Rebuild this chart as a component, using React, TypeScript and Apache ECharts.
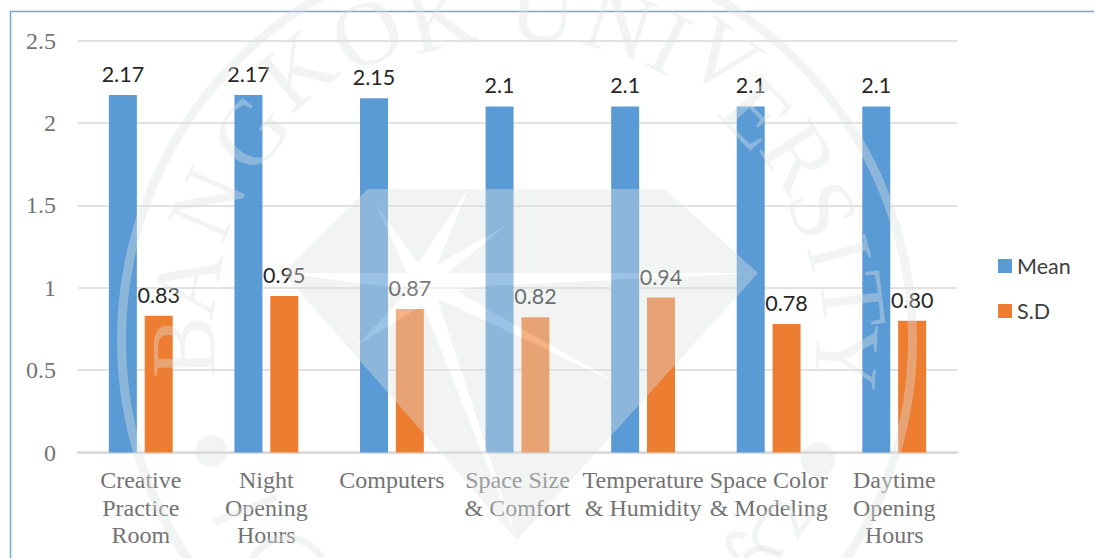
import React, { useEffect, useRef } from "react";
import * as echarts from "echarts";

const categories = [
  "Creative\nPractice\nRoom",
  "Night\nOpening\nHours",
  "Computers",
  "Space Size\n& Comfort",
  "Temperature\n& Humidity",
  "Space Color\n& Modeling",
  "Daytime\nOpening\nHours",
];
const meanValues = [2.17, 2.17, 2.15, 2.1, 2.1, 2.1, 2.1];
const sdValues = [0.83, 0.95, 0.87, 0.82, 0.94, 0.78, 0.8];

// University seal drawn over the plot
const SEAL_X = 517;
const SEAL_Y = 340;
const SEAL_FILL = "rgba(221,226,226,0.38)";
const sealLetters: [string, number, number][] = [
  ["B", 183, 347], ["A", 187, 283], ["N", 207, 203], ["G", 250, 133],
  ["K", 297, 70], ["O", 367, 33], ["K", 440, 17], ["U", 543, 10],
  ["N", 620, 23], ["I", 670, 43], ["V", 723, 57], ["E", 757, 113],
  ["R", 800, 157], ["S", 823, 210], ["I", 840, 253], ["T", 853, 300],
  ["Y", 847, 357],
];

const gemOutline = "M368 189L665 189L758 273L517 540L283 273Z";
const starPoints: [number, number][] = [
  [468, 190], [437, 265], [510, 223], [447, 273], [757, 273], [487, 286],
  [456, 291], [617, 383], [437, 298], [517, 540], [423, 305], [355, 347],
  [408, 292], [388, 287], [283, 273], [407, 273], [375, 203], [418, 263],
];
const starReversed = [...starPoints].reverse();
const gemPath =
  gemOutline +
  "M" + starReversed.map((p) => p.join(" ")).join("L") + "Z";
echarts.graphic.registerShape("sealGem", echarts.graphic.extendPath(gemPath, {}));

const sealElements: any[] = [
  {
    type: "ring",
    z: 100,
    silent: true,
    shape: { cx: SEAL_X, cy: SEAL_Y, r: 400, r0: 391 },
    style: { fill: SEAL_FILL },
  },
  { type: "sealGem", z: 100, silent: true, x: 0, y: 0, style: { fill: SEAL_FILL } },
  {
    type: "polygon",
    z: 100,
    silent: true,
    shape: { points: starPoints },
    style: { fill: "rgba(255,255,255,0.4)" },
  },
  { type: "circle", z: 100, silent: true, shape: { cx: 211, cy: 451, r: 16 }, style: { fill: SEAL_FILL } },
  { type: "circle", z: 100, silent: true, shape: { cx: 818, cy: 460, r: 17 }, style: { fill: SEAL_FILL } },
  {
    type: "line",
    z: 100,
    silent: true,
    shape: { x1: 215, y1: 522, x2: 277, y2: 497 },
    style: { stroke: SEAL_FILL, lineWidth: 7 },
  },
  {
    type: "arc",
    z: 100,
    silent: true,
    shape: { cx: 287, cy: 578, r: 40, startAngle: Math.PI, endAngle: Math.PI * 2 },
    style: { stroke: SEAL_FILL, lineWidth: 7, fill: "none" },
  },
  {
    type: "bezierCurve",
    z: 100,
    silent: true,
    shape: { x1: 738, y1: 558, x2: 745, y2: 537, cpx1: 722, cpy1: 540, cpx2: 728, cpy2: 530 },
    style: { stroke: SEAL_FILL, lineWidth: 6, fill: "none" },
  },
  {
    type: "bezierCurve",
    z: 100,
    silent: true,
    shape: { x1: 745, y1: 558, x2: 780, y2: 558, cpx1: 752, cpy1: 545, cpx2: 772, cpy2: 545 },
    style: { stroke: SEAL_FILL, lineWidth: 6, fill: "none" },
  },
  {
    type: "bezierCurve",
    z: 100,
    silent: true,
    shape: { x1: 784, y1: 552, x2: 762, y2: 520, cpx1: 760, cpy1: 555, cpx2: 745, cpy2: 540 },
    style: { stroke: SEAL_FILL, lineWidth: 5, fill: "none" },
  },
  {
    type: "polyline",
    z: 100,
    silent: true,
    shape: { points: [[762, 520], [776, 502], [790, 508], [798, 535], [818, 505]] },
    style: { stroke: SEAL_FILL, lineWidth: 5, fill: "none" },
  },
  ...sealLetters.map(([letter, x, y]) => ({
    type: "text",
    z: 100,
    silent: true,
    x,
    y,
    rotation: -Math.atan2(x - SEAL_X, SEAL_Y - y),
    style: {
      text: letter,
      font: '92px "Liberation Serif"',
      fill: SEAL_FILL,
      textAlign: "center",
      textVerticalAlign: "middle",
    },
  })),
];

const frameElement = {
  type: "polyline",
  z: 1,
  silent: true,
  shape: { points: [[10.5, 558], [10.5, 11.5], [1094, 11.5]] },
  style: { stroke: "#6fa8dc", lineWidth: 1.5, fill: "none" },
};

const valueLabel = {
  show: true,
  position: "top" as const,
  distance: 10,
  fontFamily: "Lato",
  fontSize: 21.5,
  color: "#262626",
};

export default function App() {
  const ref = useRef<HTMLDivElement>(null);

  useEffect(() => {
    document.body.style.margin = "0";
    const chart = echarts.init(ref.current!, undefined, { renderer: "svg" });
    chart.setOption({
      animation: false,
      backgroundColor: "#ffffff",
      grid: { left: 78, right: 137, top: 40.5, height: 412 },
      legend: {
        orient: "vertical",
        left: 993,
        top: 250,
        itemWidth: 14,
        itemHeight: 14,
        itemGap: 23,
        icon: "rect",
        selectedMode: false,
        textStyle: { fontFamily: "Lato", fontSize: 21.5, color: "#404040" },
      },
      xAxis: {
        type: "category",
        data: categories,
        axisLine: { lineStyle: { color: "#d9d9d9", width: 2.5 } },
        axisTick: { show: false },
        axisLabel: {
          interval: 0,
          margin: 14,
          hideOverlap: false,
          fontFamily: "Liberation Serif",
          fontSize: 24,
          lineHeight: 27.5,
          color: "#737373",
        },
      },
      yAxis: {
        type: "value",
        min: 0,
        max: 2.5,
        interval: 0.5,
        axisLine: { show: false },
        axisTick: { show: false },
        splitLine: { lineStyle: { color: "#d9d9d9", width: 1.5 } },
        axisLabel: {
          margin: 22,
          fontFamily: "Liberation Serif",
          fontSize: 24,
          color: "#737373",
          padding: [0, 0, 3, 0],
        },
      },
      series: [
        {
          name: "Mean",
          type: "bar",
          data: meanValues,
          barWidth: 28,
          barGap: "28%",
          itemStyle: { color: "#5b9bd5" },
          label: { ...valueLabel },
        },
        {
          name: "S.D",
          type: "bar",
          data: sdValues,
          barWidth: 28,
          itemStyle: { color: "#ed7d31" },
          label: {
            ...valueLabel,
            formatter: (p: any) => Number(p.value).toFixed(2),
          },
        },
      ],
      graphic: { elements: [frameElement, ...sealElements] },
    });
    return () => chart.dispose();
  }, []);

  return (
    <div
      ref={ref}
      style={{ position: "absolute", left: 0, top: 0, width: 1094, height: 558 }}
    />
  );
}
